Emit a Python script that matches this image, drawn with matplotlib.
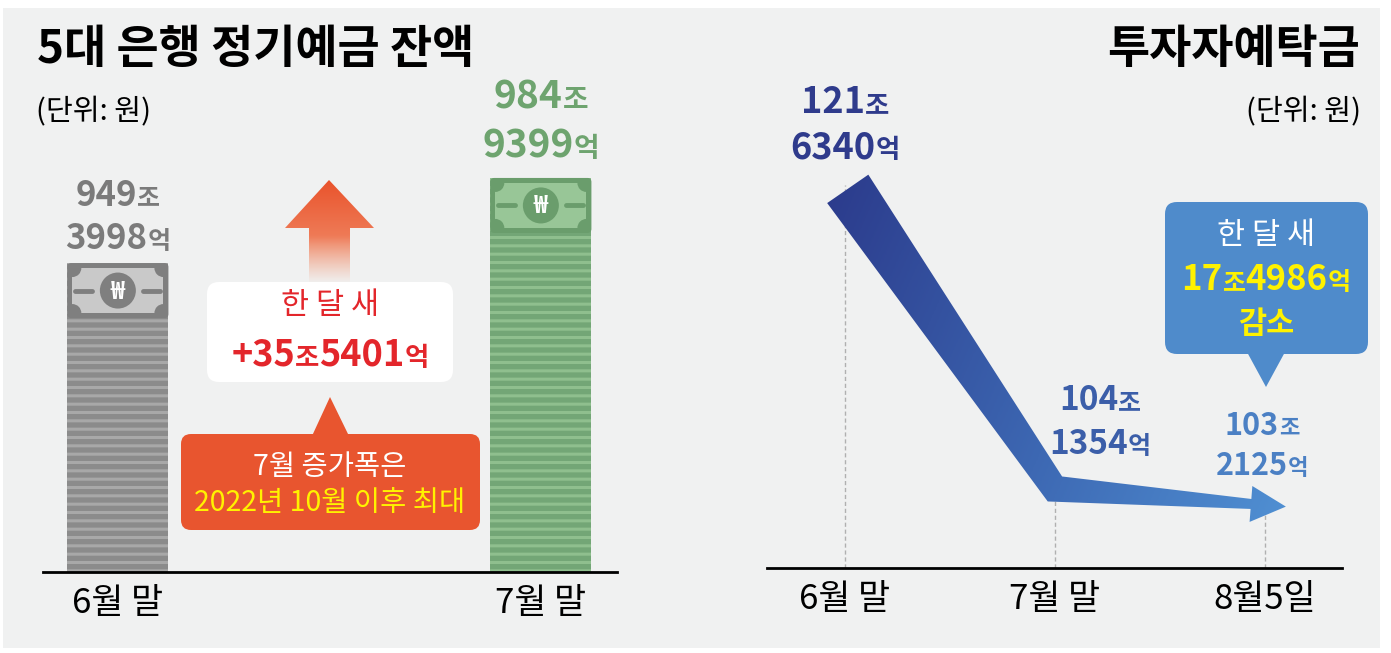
import numpy as np
import matplotlib
matplotlib.use("Agg")
import matplotlib.pyplot as plt
from matplotlib.patches import Rectangle, FancyBboxPatch, Polygon, Circle
from matplotlib.offsetbox import TextArea, HPacker, AnnotationBbox
from matplotlib.colors import LinearSegmentedColormap, to_rgb

plt.rcParams['font.family'] = ['Noto Sans CJK KR', 'DejaVu Sans']
plt.rcParams['hatch.linewidth'] = 2.2

# 값은 억원 단위
bank_labels = ['6월 말', '7월 말']
bank_values = [9493998, 9849399]
inv_labels = ['6월 말', '7월 말', '8월5일']
inv_values = [1216340, 1041354, 1032125]

W, H = 1391, 653
RED = '#e3262b'
YEL = '#fff200'


def jo(v):
    return v / 10000


def jo_eok(v):
    return str(v // 10000), str(v % 10000)


def mixed(ax, xy, parts, offset=(0, 0), xycoords='data'):
    # 숫자는 크게, 조/억은 작게 한 줄에
    kids = [TextArea(s, textprops=dict(size=sz, color=c, weight=wt)) for s, sz, c, wt in parts]
    box = HPacker(children=kids, align='baseline', pad=0, sep=0)
    ab = AnnotationBbox(box, xy, xybox=offset, xycoords=xycoords, boxcoords='offset pixels',
                        frameon=False, box_alignment=(0.5, 0.5), pad=0, annotation_clip=False)
    ax.add_artist(ab)


def value_label(ax, x, y, v, color, d, u, dx, dy1, dy2):
    j, e = jo_eok(v)
    mixed(ax, (x, y), [(j, d, color, 'bold'), ('조', u, color, 'bold')], (dx, dy1))
    mixed(ax, (x, y), [(e, d, color, 'bold'), ('억', u, color, 'bold')], (dx, dy2))


fig = plt.figure(figsize=(W / 100, H / 100), dpi=100)


def px_axes(l, t, r, b, z):
    return fig.add_axes([l / W, 1 - b / H, (r - l) / W, (b - t) / H], zorder=z)


bg = fig.add_axes([0, 0, 1, 1], zorder=0)
bg.set_xlim(0, W)
bg.set_ylim(H, 0)
bg.axis('off')
bg.add_patch(Rectangle((3, 8), 1377, 640, color='#f0f1f1', lw=0))

ax_l = px_axes(43, 8, 617, 572, 1)
ax_r = px_axes(767, 8, 1342, 568, 1)
fg = fig.add_axes([0, 0, 1, 1], zorder=2)
fg.patch.set_alpha(0)
fg.axis('off')

for ax in (ax_l, ax_r):
    ax.patch.set_alpha(0)
    ax.spines[['left', 'top', 'right']].set_visible(False)
    ax.spines['bottom'].set_linewidth(2)
    ax.spines['bottom'].set_color('black')
    ax.set_yticks([])
    ax.tick_params(axis='x', length=0, labelsize=25, pad=10)

# ---- 왼쪽: 정기예금 막대 ----
ax_l.set_xlim(-0.177, 1.18)
ax_l.set_ylim(820.4, 1055.9)
bank_jo = [jo(v) for v in bank_values]
bars = ax_l.bar(range(len(bank_values)), bank_jo, width=0.239,
                color=['#8b8b8b', '#73a676'], edgecolor=['#a8a8a8', '#8fbf8e'],
                hatch='--', lw=0)
ax_l.set_xticks(range(len(bank_labels)), bank_labels)

fg.set_xlim(0, W)
fg.set_ylim(H, 0)
to_fg = fg.transData.inverted()


def fg_pt(ax, x, y):
    return to_fg.transform(ax.transData.transform((x, y)))


note_cols = [('#7f7f7f', '#c9c9c9'), ('#6a9d6c', '#98c697')]
for rect, (dark, light) in zip(bars, note_cols):
    x0, ytop = fg_pt(ax_l, rect.get_x(), rect.get_height())
    x1, _ = fg_pt(ax_l, rect.get_x() + rect.get_width(), rect.get_height())
    w, h = x1 - x0, 55
    fg.add_patch(FancyBboxPatch((x0, ytop), w, h, boxstyle='round,pad=0,rounding_size=4',
                                fc=dark, lw=0, zorder=3))
    inner = Rectangle((x0 + 5, ytop + 5), w - 10, h - 10, fc=light, lw=0, zorder=3)
    fg.add_patch(inner)
    for cx_, cy_ in [(x0 + 5, ytop + 5), (x1 - 5, ytop + 5), (x0 + 5, ytop + h - 5), (x1 - 5, ytop + h - 5)]:
        c = Circle((cx_, cy_), 9, fc=dark, lw=0, zorder=3)
        fg.add_patch(c)
        c.set_clip_path(inner)
    cx, cy = (x0 + x1) / 2, ytop + h / 2
    fg.add_patch(Circle((cx, cy), 18, fc=dark, lw=0, zorder=4))
    fg.plot([x0 + 8, x0 + 25], [cy, cy], color=dark, lw=3.5, solid_capstyle='round', zorder=4)
    fg.plot([x1 - 25, x1 - 8], [cy, cy], color=dark, lw=3.5, solid_capstyle='round', zorder=4)
    fg.text(cx, cy + 1, '₩', color='white', size=17, weight='bold', ha='center', va='center', zorder=5)

value_label(ax_l, 0, bank_jo[0], bank_values[0], '#7b7b7b', 25, 18, 0, 68, 25)
value_label(ax_l, 1, bank_jo[1], bank_values[1], '#6ea46f', 28, 20, 0, 81, 32)

# 위로 향하는 주황 화살표 (아래쪽은 흐려짐)
arrow_v = [(329, 180), (374, 228), (350, 228), (350, 285), (309, 285), (309, 228), (285, 228)]
ys = np.linspace(180, 285, 120)
rgba = np.zeros((len(ys), 2, 4))
top_c, low_c = np.array(to_rgb('#e9532c')), np.array(to_rgb('#f39a78'))
mix = np.clip((ys - 180) / 100, 0, 1)[:, None]
rgba[:, :, :3] = (top_c * (1 - mix) + low_c * mix)[:, None, :]
alpha = np.clip((284 - ys) / (284 - 236), 0, 1)
rgba[:, :, 3] = alpha[:, None]
up_poly = Polygon(arrow_v, closed=True, transform=fg.transData)
im = fg.imshow(rgba, extent=(285, 374, 285, 180), origin='upper', aspect='auto',
               interpolation='bilinear', zorder=2)
im.set_clip_path(up_poly)

# 흰 상자
change_bank = bank_values[1] - bank_values[0]
fg.add_patch(FancyBboxPatch((207, 282), 246, 100, boxstyle='round,pad=0,rounding_size=12',
                            fc='white', lw=0, zorder=2))
fg.text(330, 306, '한 달 새', color=RED, size=22, ha='center', va='center', zorder=3)
j, e = jo_eok(change_bank)
mixed(fg, (330, 355), [('+' + j, 26, RED, 'bold'), ('조', 19, RED, 'bold'),
                       (e, 26, RED, 'bold'), ('억', 19, RED, 'bold')])

# 주황 말풍선
ORG = '#e8552f'
fg.add_patch(FancyBboxPatch((181, 434), 299, 96, boxstyle='round,pad=0,rounding_size=10',
                            fc=ORG, lw=0, zorder=2))
fg.add_patch(Polygon([(312, 436), (330, 397), (349, 436)], closed=True, fc=ORG, lw=0, zorder=2))
fg.text(330, 467, '7월 증가폭은', color='white', size=20.5, weight='medium',
        ha='center', va='center', zorder=3)
fg.text(330, 503, '2022년 10월 이후 최대', color=YEL, size=20.5, weight='medium',
        ha='center', va='center', zorder=3)

fg.text(37, 50, '5대 은행 정기예금 잔액', size=33, weight='bold', ha='left', va='center')
fg.text(36, 112, '(단위: 원)', size=21, ha='left', va='center')

# ---- 오른쪽: 투자자예탁금 ----
ax_r.set_xlim(-0.371, 2.367)
ax_r.set_ylim(99.59, 131.8)
inv_jo = [jo(v) for v in inv_values]
xs = np.arange(len(inv_values))
ax_r.vlines(xs, 99.59, inv_jo, colors='#b0b0b0', linestyles=(0, (3, 2)), lw=1)
ax_r.set_xticks(xs, inv_labels)

P = np.array([fg_pt(ax_r, x, y) for x, y in zip(xs, inv_jo)])


def unit(v):
    return v / np.hypot(*v)


d1, d2 = unit(P[1] - P[0]), unit(P[2] - P[1])
n1, n2 = np.array([d1[1], -d1[0]]), np.array([d2[1], -d2[0]])
m = (n1 + n2) / (1 + n1 @ n2)
w0, w1, wh, hh = 25, 13, 5, 18
hb = P[2] - 14 * d2
band = [P[0] + w0 * n1 + 5 * d1, P[1] + w1 * m, hb + wh * n2, hb + hh * n2, P[2] + 21 * d2,
        hb - hh * n2, hb - wh * n2, P[1] - w1 * m, P[0] - w0 * n1 + 5 * d1]
band = np.array(band)
bx0, by0 = band.min(axis=0) - 2
bx1, by1 = band.max(axis=0) + 2
gx, gy = np.meshgrid(np.linspace(bx0, bx1, 300), np.linspace(by0, by1, 200))
t = (gx - bx0) + 0.45 * (gy - by0)
t = t / t.max()
cmap = LinearSegmentedColormap.from_list('band', [(0, '#2b3a8b'), (0.55, '#3d68b3'), (1, '#5090d3')])
band_poly = Polygon(band, closed=True, transform=fg.transData)
im2 = fg.imshow(t, cmap=cmap, extent=(bx0, bx1, by1, by0), origin='upper', aspect='auto',
                interpolation='bilinear', zorder=2)
im2.set_clip_path(band_poly)
fg.set_xlim(0, W)
fg.set_ylim(H, 0)

value_label(ax_r, 0, inv_jo[0], inv_values[0], '#2f3b8c', 26, 19, 0, 82, 37)
value_label(ax_r, 1, inv_jo[1], inv_values[1], '#3b5ea9', 24, 18, 45, 88, 44)
value_label(ax_r, 2, inv_jo[2], inv_values[2], '#4b80c4', 22, 16, -3, 79, 39)

# 파란 말풍선
BLU = '#4f8bcb'
change_inv = inv_values[0] - inv_values[1]
fg.add_patch(FancyBboxPatch((1165, 202), 203, 152, boxstyle='round,pad=0,rounding_size=12',
                            fc=BLU, lw=0, zorder=2))
fg.add_patch(Polygon([(1247, 352), (1266, 387), (1285, 352)], closed=True, fc=BLU, lw=0, zorder=2))
fg.text(1266, 235, '한 달 새', color='white', size=22, ha='center', va='center', zorder=3)
j, e = jo_eok(change_inv)
mixed(fg, (1266, 280), [(j, 25, YEL, 'bold'), ('조', 18, YEL, 'bold'),
                        (e, 25, YEL, 'bold'), ('억', 18, YEL, 'bold')])
fg.text(1266, 324, '감소', color=YEL, size=22, weight='bold', ha='center', va='center', zorder=3)

fg.text(1360, 50, '투자자예탁금', size=33, weight='bold', ha='right', va='center')
fg.text(1361, 112, '(단위: 원)', size=21, ha='right', va='center')

fig.savefig('out.png', dpi=100)
